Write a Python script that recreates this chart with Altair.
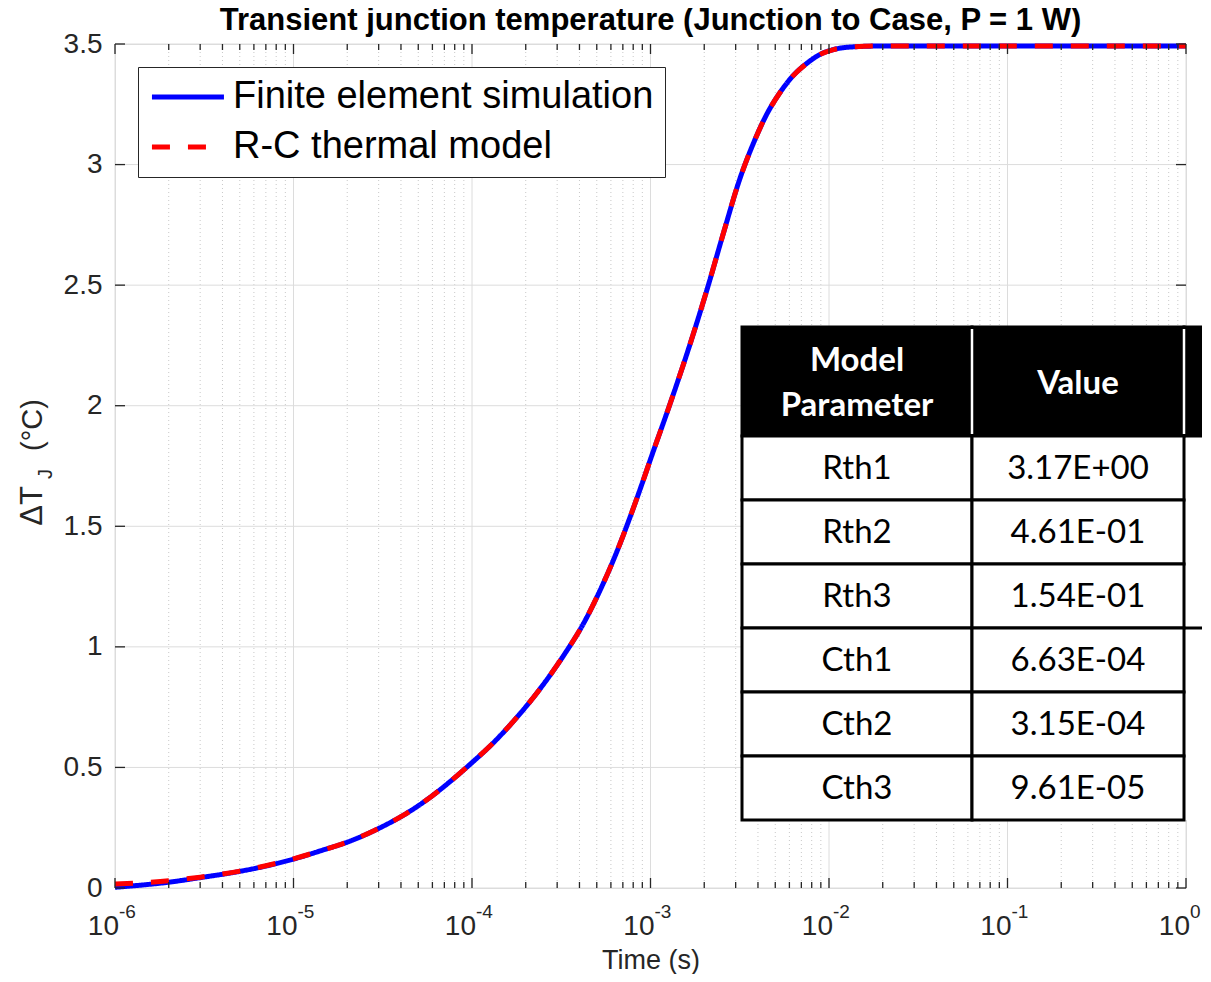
import altair as alt
import pandas as pd

# ---------------- data ----------------
t_fe = [1e-6, 1.5e-6, 2e-6, 3e-6, 5e-6, 7e-6, 1e-5, 1.5e-5, 2e-5, 3e-5, 4e-5, 5e-5, 6e-5, 7.5e-5,
        1e-4, 1.3e-4, 1.7e-4, 2.4e-4, 3.3e-4, 4.2e-4, 5.2e-4, 6.4e-4, 7.7e-4, 9.1e-4,
        1e-3, 1.29e-3, 1.67e-3, 2.07e-3, 2.56e-3, 3.18e-3, 3.78e-3, 4.49e-3, 5.33e-3,
        6.32e-3, 7.52e-3, 8.92e-3, 1.06e-2, 1.35e-2, 2.1e-2, 5e-2, 1e-1, 1.0]
v_fe = [0.003, 0.014, 0.024, 0.043, 0.069, 0.091, 0.120, 0.160, 0.190, 0.247, 0.296, 0.341, 0.383, 0.440,
        0.520, 0.598, 0.690, 0.825, 0.970, 1.095, 1.232, 1.385, 1.540, 1.690,
        1.778, 2.010, 2.258, 2.480, 2.715, 2.945, 3.090, 3.210, 3.300,
        3.370, 3.420, 3.457, 3.477, 3.488, 3.492, 3.492, 3.492, 3.492]

t_rc = [1e-6, 1.5e-6, 2e-6, 3e-6, 5e-6, 7e-6, 1e-5, 1.5e-5, 2e-5, 3e-5, 4e-5, 5e-5, 6e-5, 7.5e-5,
        1e-4, 1.3e-4, 1.7e-4, 2.4e-4, 3.3e-4, 4.2e-4, 5.2e-4, 6.4e-4, 7.7e-4, 9.1e-4,
        1e-3, 1.29e-3, 1.67e-3, 2.07e-3, 2.56e-3, 3.18e-3, 3.78e-3, 4.49e-3, 5.33e-3,
        6.32e-3, 7.52e-3, 8.92e-3, 1.06e-2, 1.35e-2, 2.1e-2, 5e-2, 1e-1, 1.0]
v_rc = [0.017, 0.023, 0.030, 0.045, 0.070, 0.092, 0.121, 0.160, 0.190, 0.247, 0.296, 0.341, 0.383, 0.440,
        0.520, 0.598, 0.690, 0.825, 0.970, 1.095, 1.232, 1.385, 1.540, 1.690,
        1.778, 2.010, 2.258, 2.480, 2.715, 2.945, 3.090, 3.210, 3.300,
        3.370, 3.420, 3.457, 3.477, 3.488, 3.492, 3.492, 3.492, 3.492]

series_names = ["Finite element simulation", "R-C thermal model"]
series_colors = ["#0000ff", "#ff0000"]

x_major = [1e-6, 1e-5, 1e-4, 1e-3, 1e-2, 1e-1, 1.0]
x_exponents = ["-6", "-5", "-4", "-3", "-2", "-1", "0"]
x_minor = [m * d for d in x_major[:-1] for m in range(2, 10)]
y_ticks = [0, 0.5, 1, 1.5, 2, 2.5, 3, 3.5]

table_headers = ["Model\nParameter", "Value"]
table_params = ["Rth1", "Rth2", "Rth3", "Cth1", "Cth2", "Cth3"]
table_values = ["3.17E+00", "4.61E-01", "1.54E-01", "6.63E-04", "3.15E-04", "9.61E-05"]

title_text = "Transient junction temperature (Junction to Case, P = 1 W)"

# ---------------- layout ----------------
W, H = 1071, 844
TBL_COLS = [627, 857, 1069, 1110]
TBL_ROWS = [283, 392, 456, 520, 584, 648, 712, 776]
HDR_LH = 45
AX = "#262626"
FONT = "Liberation Sans"

xscale = alt.Scale(type="log", domain=[1e-6, 1], nice=False)
yscale = alt.Scale(domain=[0, 3.5], nice=False)

curve_df = pd.DataFrame({
    "t": t_fe + t_rc,
    "v": v_fe + v_rc,
    "series": [series_names[0]] * len(t_fe) + [series_names[1]] * len(t_rc),
})

xmaj_df = pd.DataFrame({"x": x_major, "e": x_exponents})
xmin_df = pd.DataFrame({"x": x_minor})
y_df = pd.DataFrame({"y": y_ticks})


def XF(f):
    return alt.X(f, type="quantitative", scale=xscale, axis=None)


def YF(f):
    return alt.Y(f, type="quantitative", scale=yscale, axis=None)


grid_minor = alt.Chart(xmin_df).mark_rule(color="#c8c8c8", strokeDash=[1, 3], strokeWidth=1).encode(x=XF("x"))
grid_major = alt.Chart(xmaj_df).mark_rule(color="#dcdcdc", strokeWidth=1).encode(x=XF("x"))
grid_y = alt.Chart(y_df).mark_rule(color="#dcdcdc", strokeWidth=1).encode(y=YF("y"))

leg = alt.Legend(
    title=None, orient="none", legendX=23, legendY=23, direction="vertical",
    symbolType="M-1.07,0H3.73", symbolSize=900, symbolStrokeWidth=5,
    labelFont=FONT, labelFontSize=38, labelColor="black", labelLimit=800,
    labelOffset=46, rowPadding=12, padding=11,
    fillColor="white", strokeColor=AX,
)

lines = alt.Chart(curve_df).mark_line(strokeWidth=5, interpolate="monotone").encode(
    x=alt.X("t:Q", scale=xscale,
            axis=alt.Axis(title="Time (s)", labels=False, ticks=False, domain=False, grid=False,
                          titlePadding=59, titleFont=FONT, titleFontSize=27,
                          titleColor=AX, titleFontWeight="normal")),
    y=alt.Y("v:Q", scale=yscale,
            axis=alt.Axis(title=None, values=y_ticks, format=".1~f", labelPadding=13,
                          ticks=False, tickSize=0, domain=False, grid=False,
                          labelFont=FONT, labelFontSize=28, labelColor=AX)),
    color=alt.Color("series:N", scale=alt.Scale(domain=series_names, range=series_colors), legend=leg),
    strokeDash=alt.StrokeDash("series:N", scale=alt.Scale(domain=series_names, range=[[1, 0], [18, 18]]), legend=leg),
)

tick_kw = dict(color=AX, strokeWidth=1.3)
ticks = [
    alt.Chart(xmaj_df).mark_rule(**tick_kw).encode(x=XF("x"), y=alt.value(H), y2=alt.value(H - 10)),
    alt.Chart(xmaj_df).mark_rule(**tick_kw).encode(x=XF("x"), y=alt.value(0), y2=alt.value(10)),
    alt.Chart(xmin_df).mark_rule(**tick_kw).encode(x=XF("x"), y=alt.value(H), y2=alt.value(H - 6)),
    alt.Chart(xmin_df).mark_rule(**tick_kw).encode(x=XF("x"), y=alt.value(0), y2=alt.value(6)),
    alt.Chart(y_df).mark_rule(**tick_kw).encode(y=YF("y"), x=alt.value(0), x2=alt.value(10)),
    alt.Chart(y_df).mark_rule(**tick_kw).encode(y=YF("y"), x=alt.value(W - 10), x2=alt.value(W)),
]

xlab_base = alt.Chart(xmaj_df).mark_text(
    text="10", align="right", dx=4, baseline="alphabetic", font=FONT, fontSize=28, color=AX
).encode(x=XF("x"), y=alt.value(H + 47))
xlab_exp = alt.Chart(xmaj_df).mark_text(
    align="left", dx=4, baseline="alphabetic", font=FONT, fontSize=19, color=AX
).encode(x=XF("x"), y=alt.value(H + 30), text="e:N")

# ---------------- table ----------------
hdr_rows, body_rows, txt_rows = [], [], []
for c in range(3):
    hdr_rows.append({"x0": TBL_COLS[c], "x1": TBL_COLS[c + 1], "y0": TBL_ROWS[0], "y1": TBL_ROWS[1]})
for c, col in enumerate([table_params, table_values]):
    for r, val in enumerate(col):
        body_rows.append({"x0": TBL_COLS[c], "x1": TBL_COLS[c + 1], "y0": TBL_ROWS[r + 1], "y1": TBL_ROWS[r + 2]})
        txt_rows.append({"cx": (TBL_COLS[c] + TBL_COLS[c + 1]) / 2,
                         "cy": (TBL_ROWS[r + 1] + TBL_ROWS[r + 2]) / 2 + 1, "txt": val})
hdr_txt = [{"cx": (TBL_COLS[c] + TBL_COLS[c + 1]) / 2,
            "cy": (TBL_ROWS[0] + TBL_ROWS[1]) / 2 - (h.count("\n")) * HDR_LH / 2 + 2,
            "txt": h}
           for c, h in enumerate(table_headers)]
hdr_df = pd.DataFrame(hdr_rows)
body_df = pd.DataFrame(body_rows)
txt_df = pd.DataFrame(txt_rows)
hdr_txt_df = pd.DataFrame(hdr_txt)
col3_df = pd.DataFrame([{"x0": TBL_COLS[2], "x1": TBL_COLS[3], "y0": TBL_ROWS[1], "y1": TBL_ROWS[-1], "ym": TBL_ROWS[4]}])
sep_df = pd.DataFrame([{"x": TBL_COLS[1], "y0": TBL_ROWS[0] + 2, "y1": TBL_ROWS[1] - 2},
                       {"x": TBL_COLS[2], "y0": TBL_ROWS[0] + 2, "y1": TBL_ROWS[1] - 2}])

px = lambda f: alt.X(f, type="quantitative", scale=None)
py = lambda f: alt.Y(f, type="quantitative", scale=None)

col3_bg = alt.Chart(col3_df).mark_rect(fill="white").encode(x=px("x0"), x2="x1:Q", y=py("y0"), y2="y1:Q")
col3_line = alt.Chart(col3_df).mark_rule(color="black", strokeWidth=3).encode(x=px("x0"), x2="x1:Q", y=py("ym"))
hdr_rect = alt.Chart(hdr_df).mark_rect(fill="black", stroke="black", strokeWidth=3).encode(
    x=px("x0"), x2="x1:Q", y=py("y0"), y2="y1:Q")
body_rect = alt.Chart(body_df).mark_rect(fill="white", stroke="black", strokeWidth=3).encode(
    x=px("x0"), x2="x1:Q", y=py("y0"), y2="y1:Q")
sep = alt.Chart(sep_df).mark_rule(color="white", strokeWidth=2.5).encode(x=px("x"), y=py("y0"), y2="y1:Q")
hdr_text = alt.Chart(hdr_txt_df).mark_text(
    font="Lato", fontSize=33, fontWeight="bold", color="white", lineBreak="\n", lineHeight=HDR_LH,
    align="center", baseline="middle").encode(x=px("cx"), y=py("cy"), text="txt:N")
body_text = alt.Chart(txt_df).mark_text(
    font="Lato", fontSize=33, color="black", align="center", baseline="middle").encode(
    x=px("cx"), y=py("cy"), text="txt:N")

# ---------------- title and y-axis title (Delta T_J (°C)) ----------------
one = alt.Data(values=[{"k": 0}])
title_mark = alt.Chart(one).mark_text(
    text=title_text, font=FONT, fontSize=31, fontWeight="bold", color="black",
    align="center", baseline="middle").encode(x=alt.value(W / 2), y=alt.value(-23))
ytitle = [
    alt.Chart(one).mark_text(text="ΔT", angle=270, font=FONT, fontSize=31, color=AX,
                             align="center", baseline="middle").encode(x=alt.value(-82), y=alt.value(462)),
    alt.Chart(one).mark_text(text="J", angle=270, font=FONT, fontSize=20, color=AX,
                             align="center", baseline="middle").encode(x=alt.value(-69), y=alt.value(430)),
    alt.Chart(one).mark_text(text="(°C)", angle=270, font=FONT, fontSize=29, color=AX,
                             align="center", baseline="middle").encode(x=alt.value(-82), y=alt.value(381)),
]

chart = alt.layer(
    grid_minor, grid_major, grid_y, lines, *ticks, xlab_base, xlab_exp,
    col3_bg, col3_line, hdr_rect, body_rect, sep, hdr_text, body_text, title_mark, *ytitle,
).resolve_axis(x="independent", y="independent").properties(
    width=W, height=H,
    padding={"left": 107, "top": 36, "right": 16, "bottom": 86},
    autosize=alt.AutoSizeParams(type="none"),
).configure_view(stroke=AX, strokeWidth=1.3).configure(background="white")

chart.save("out.html", embed_options={"renderer": "svg", "actions": False})
